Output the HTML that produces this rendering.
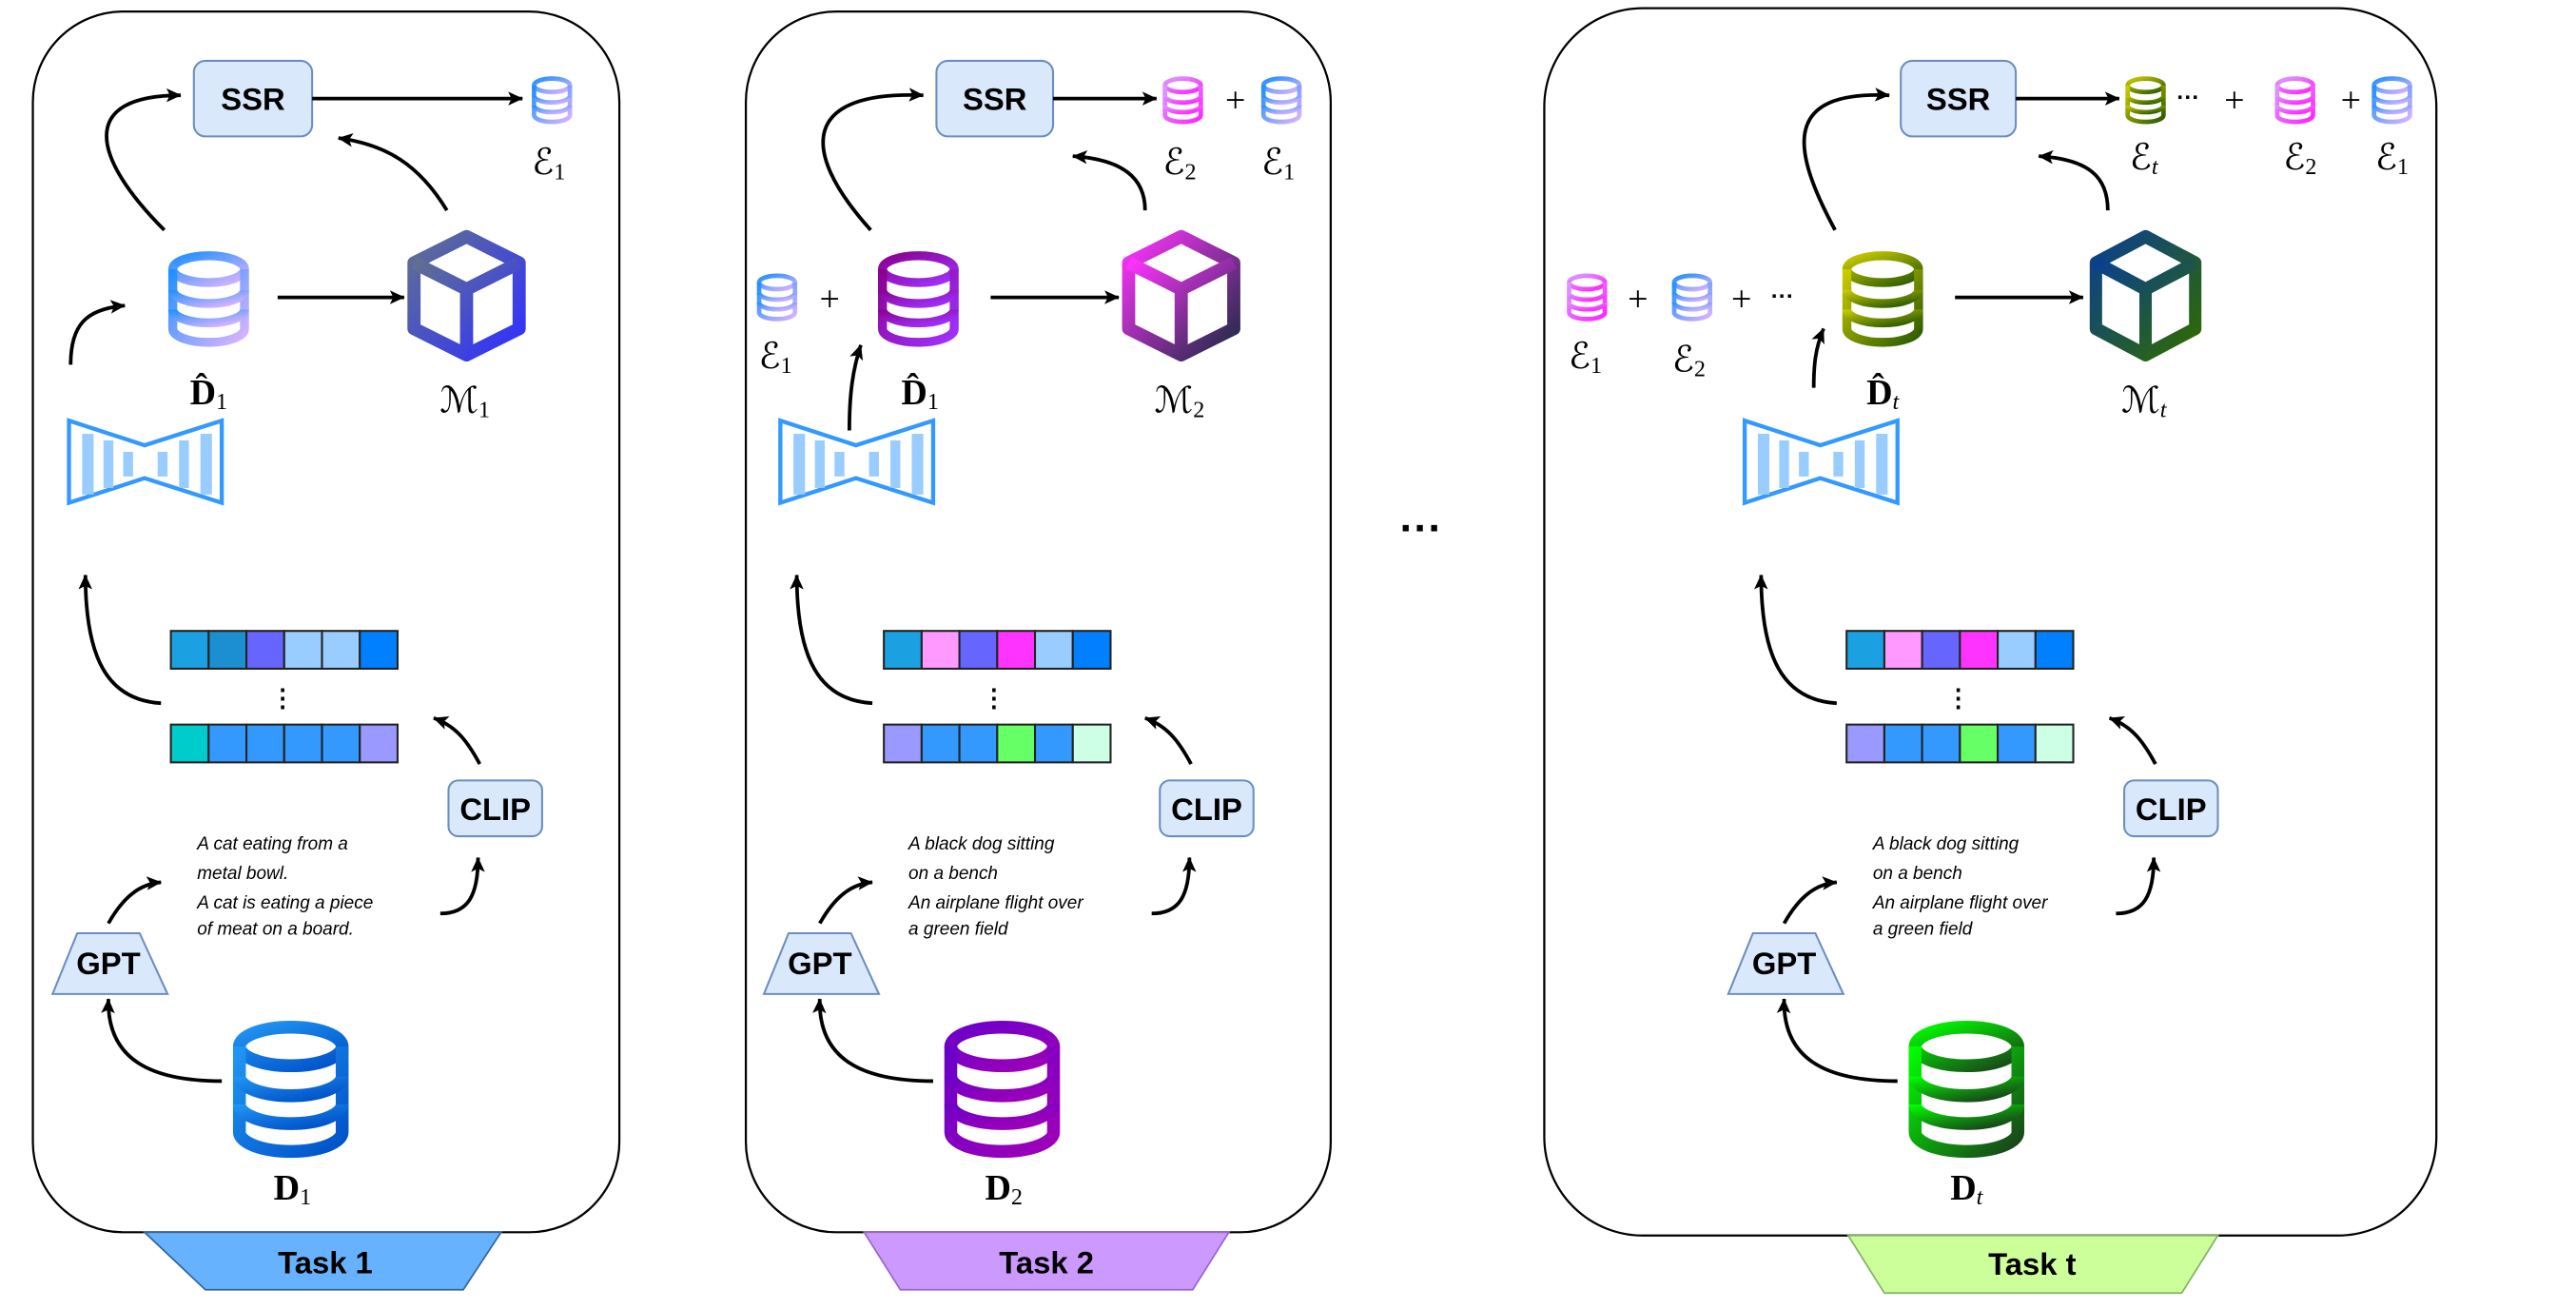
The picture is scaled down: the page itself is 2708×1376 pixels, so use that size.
<!DOCTYPE html>
<html><head><meta charset="utf-8"><style>
html,body{margin:0;padding:0;background:#fff;}
svg{display:block;}
.lbl{font-family:"Liberation Serif","DejaVu Serif",serif;font-size:22px;fill:#000;}
.box{font-family:"Liberation Sans",sans-serif;font-weight:bold;fill:#000;}
.it{font-family:"Liberation Sans",sans-serif;font-style:italic;font-size:11px;fill:#000;}
</style></head><body>
<svg width="2708" height="1376" viewBox="0 0 1568 796.7" xmlns="http://www.w3.org/2000/svg">
<defs>
<marker id="ar" viewBox="0 0 10 10" refX="9" refY="5" markerWidth="5" markerHeight="5" orient="auto" markerUnits="userSpaceOnUse" style="overflow:visible">
<path d="M-3,-1 L10,5 L-3,11 L0,5 Z" fill="#000" transform="scale(1.4) translate(-3,-1.5)"/>
</marker>
<linearGradient id="gE1" x1="0" y1="0" x2="1" y2="1"><stop offset="0" stop-color="#1e90ff"/><stop offset="1" stop-color="#dcb4ff"/></linearGradient>
<linearGradient id="gPk" x1="0" y1="0" x2="1" y2="1"><stop offset="0" stop-color="#d99cff"/><stop offset="1" stop-color="#ff22ff"/></linearGradient>
<linearGradient id="gPu" x1="0" y1="0" x2="1" y2="1"><stop offset="0" stop-color="#8a0090"/><stop offset="1" stop-color="#a033ff"/></linearGradient>
<linearGradient id="gPu2" x1="0" y1="0" x2="1" y2="1"><stop offset="0" stop-color="#6a00c8"/><stop offset="1" stop-color="#a000b8"/></linearGradient>
<linearGradient id="gOl" x1="0" y1="0" x2="1" y2="1"><stop offset="0" stop-color="#cccc00"/><stop offset="1" stop-color="#2a5a00"/></linearGradient>
<linearGradient id="gD1" x1="0" y1="0" x2="1" y2="1"><stop offset="0" stop-color="#2196f3"/><stop offset="1" stop-color="#0050c8"/></linearGradient>
<linearGradient id="gDt" x1="0" y1="0" x2="1" y2="1"><stop offset="0" stop-color="#00ff00"/><stop offset="1" stop-color="#1a401a"/></linearGradient>
<linearGradient id="gC1" x1="0" y1="0" x2="1" y2="1"><stop offset="0" stop-color="#607090"/><stop offset="1" stop-color="#3030ff"/></linearGradient>
<linearGradient id="gC2" x1="0" y1="0" x2="1" y2="1"><stop offset="0" stop-color="#ff33ff"/><stop offset="1" stop-color="#1e2a44"/></linearGradient>
<linearGradient id="gCt" x1="0" y1="0" x2="1" y2="1"><stop offset="0" stop-color="#0a3f90"/><stop offset="1" stop-color="#2f6a00"/></linearGradient>
<symbol id="db" viewBox="0 0 60 66" overflow="visible">
<g fill="none" stroke-width="6">
<ellipse cx="30" cy="13" rx="24" ry="9"/>
<path d="M6,13 V53 A24,9 0 0 0 54,53 V13"/>
<path d="M6,27 A24,9 0 0 0 54,27"/>
<path d="M6,40 A24,9 0 0 0 54,40"/>
</g></symbol>
<symbol id="cube" viewBox="0 0 72 80" overflow="visible" preserveAspectRatio="none">
<g fill="none" stroke-width="8" stroke-linejoin="round">
<path d="M36,4 L68,20 L68,60 L36,76 L4,60 L4,20 Z"/>
<path d="M4,20 L36,36 L68,20 M36,36 V76"/>
</g></symbol>
<g id="ae">
<polygon points="42,256 88,271 135,256 135,306 88,291 42,306" fill="none" stroke="#3399ff" stroke-width="2.5"/>
<g fill="#99ccff"><rect x="50" y="264" width="7" height="37"/><rect x="63" y="268" width="6" height="29"/><rect x="75" y="275" width="6" height="15"/><rect x="96" y="275" width="6" height="15"/><rect x="109" y="268" width="6" height="29"/><rect x="122" y="264" width="7" height="37"/></g>
</g>
<g id="common">
<use href="#ae"/>
<g fill="none" stroke="#000" stroke-width="2.2">
<path d="M98,428 C65,426 52,400 52,350" marker-end="url(#ar)"/>
<path d="M292,465 C285,452 278,442 264,437" marker-end="url(#ar)"/>
<path d="M268,556 C285,556 291,545 291,522" marker-end="url(#ar)"/>
<path d="M66,562 C75,546 85,538 98,537" marker-end="url(#ar)"/>
<path d="M135,658 C92,658 65,645 66,608" marker-end="url(#ar)"/>
</g>
<text x="172" y="430" text-anchor="middle" class="box" font-size="15">⋮</text>
<rect x="273" y="475" width="57" height="34" rx="6" fill="#dae8fc" stroke="#6c8ebf" stroke-width="1.2"/>
<text x="301.5" y="499" text-anchor="middle" class="box" font-size="19">CLIP</text>
<polygon points="47,568 85,568 102,605 32,605" fill="#dae8fc" stroke="#6c8ebf" stroke-width="1.2"/>
<text x="66" y="593" text-anchor="middle" class="box" font-size="19">GPT</text>
</g>
</defs>

<g fill="none" stroke="#000" stroke-width="1.3">
<rect x="20" y="7" width="357" height="743" rx="55"/>
<rect x="454" y="7" width="356" height="743" rx="55"/>
<rect x="940" y="5" width="543" height="747" rx="60"/>
</g>
<polygon points="88,750 305,750 282,785 125,785" fill="#66b2ff" stroke="#336699" stroke-width="1"/>
<text x="198" y="775" text-anchor="middle" class="box" font-size="19">Task 1</text>
<polygon points="526,750 748,750 726,785 548,785" fill="#cc99ff" stroke="#9966cc" stroke-width="1"/>
<text x="637" y="775" text-anchor="middle" class="box" font-size="19">Task 2</text>
<polygon points="1125,752 1350,752 1328,787 1147,787" fill="#ccff99" stroke="#82b366" stroke-width="1"/>
<text x="1237" y="776" text-anchor="middle" class="box" font-size="19">Task t</text>
<text x="865" y="330" text-anchor="middle" class="box" font-size="26">···</text>

<!-- Panel 1 -->
<use href="#common"/>
<rect x="118" y="37" width="72" height="46" rx="7" fill="#dae8fc" stroke="#6c8ebf" stroke-width="1.2"/>
<text x="154" y="67" text-anchor="middle" class="box" font-size="19">SSR</text>
<g fill="none" stroke="#000" stroke-width="2.2">
<line x1="190" y1="60" x2="318" y2="60" marker-end="url(#ar)"/>
<path d="M100,140 C55,95 48,58 110,58" marker-end="url(#ar)"/>
<path d="M272,128 C255,100 235,88 206,84" marker-end="url(#ar)"/>
<line x1="169" y1="181" x2="246" y2="181" marker-end="url(#ar)"/>
<path d="M43,222 C43,198 52,188 76,186" marker-end="url(#ar)"/>
</g>
<use href="#db" x="322" y="46" width="28" height="30" stroke="url(#gE1)"/>
<text x="334" y="106" text-anchor="middle" class="lbl">ℰ<tspan font-size="14" dy="3">1</tspan></text>
<use href="#db" x="99" y="152" width="56" height="60" stroke="url(#gE1)"/>
<text x="127" y="246" text-anchor="middle" class="lbl" font-weight="bold">D̂<tspan font-size="14" font-weight="normal" dy="3">1</tspan></text>
<use href="#cube" x="248" y="140" width="72" height="80" stroke="url(#gC1)"/>
<text x="283" y="251" text-anchor="middle" class="lbl">ℳ<tspan font-size="14" dy="3">1</tspan></text>
<g stroke="#222" stroke-width="1.2">
<rect x="104" y="384" width="23" height="23" fill="#1ba1e2"/><rect x="127" y="384" width="23" height="23" fill="#1b8fd0"/><rect x="150" y="384" width="23" height="23" fill="#6666ff"/><rect x="173" y="384" width="23" height="23" fill="#99ccff"/><rect x="196" y="384" width="23" height="23" fill="#99ccff"/><rect x="219" y="384" width="23" height="23" fill="#007fff"/>
<rect x="104" y="441" width="23" height="23" fill="#00cccc"/><rect x="127" y="441" width="23" height="23" fill="#3399ff"/><rect x="150" y="441" width="23" height="23" fill="#3399ff"/><rect x="173" y="441" width="23" height="23" fill="#3399ff"/><rect x="196" y="441" width="23" height="23" fill="#3399ff"/><rect x="219" y="441" width="23" height="23" fill="#9999ff"/>
</g>
<text class="it"><tspan x="120" y="517">A cat eating from a</tspan><tspan x="120" y="535">metal bowl.</tspan><tspan x="120" y="553">A cat is eating a piece</tspan><tspan x="120" y="569">of meat on a  board.</tspan></text>
<use href="#db" x="136" y="620" width="82" height="86" stroke="url(#gD1)"/>
<text x="178" y="730" text-anchor="middle" class="lbl" font-weight="bold">D<tspan font-size="14" font-weight="normal" dy="3">1</tspan></text>

<!-- Panel 2 -->
<g transform="translate(433,0)"><use href="#common"/></g>
<rect x="570" y="37" width="71" height="46" rx="7" fill="#dae8fc" stroke="#6c8ebf" stroke-width="1.2"/>
<text x="605.5" y="67" text-anchor="middle" class="box" font-size="19">SSR</text>
<g fill="none" stroke="#000" stroke-width="2.2">
<line x1="641" y1="60" x2="704" y2="60" marker-end="url(#ar)"/>
<path d="M530,140 C485,90 490,55 562,58" marker-end="url(#ar)"/>
<path d="M697,128 C697,108 683,97 653,95" marker-end="url(#ar)"/>
<line x1="603" y1="181" x2="681" y2="181" marker-end="url(#ar)"/>
<path d="M517,262 C517,240 519,225 524,210" marker-end="url(#ar)"/>
</g>
<use href="#db" x="706" y="46" width="28" height="30" stroke="url(#gPk)"/>
<text x="752" y="68" text-anchor="middle" class="lbl" font-size="24">+</text>
<use href="#db" x="766" y="46" width="28" height="30" stroke="url(#gE1)"/>
<text x="718" y="106" text-anchor="middle" class="lbl">ℰ<tspan font-size="14" dy="3">2</tspan></text>
<text x="778" y="106" text-anchor="middle" class="lbl">ℰ<tspan font-size="14" dy="3">1</tspan></text>
<use href="#db" x="459" y="166" width="28" height="30" stroke="url(#gE1)"/>
<text x="505" y="189" text-anchor="middle" class="lbl" font-size="24">+</text>
<text x="472" y="224" text-anchor="middle" class="lbl">ℰ<tspan font-size="14" dy="3">1</tspan></text>
<use href="#db" x="531" y="152" width="56" height="60" stroke="url(#gPu)"/>
<text x="560" y="246" text-anchor="middle" class="lbl" font-weight="bold">D̂<tspan font-size="14" font-weight="normal" dy="3">1</tspan></text>
<use href="#cube" x="683" y="140" width="72" height="80" stroke="url(#gC2)"/>
<text x="718" y="251" text-anchor="middle" class="lbl">ℳ<tspan font-size="14" dy="3">2</tspan></text>
<g stroke="#222" stroke-width="1.2">
<rect x="538" y="384" width="23" height="23" fill="#1ba1e2"/><rect x="561" y="384" width="23" height="23" fill="#ff99ff"/><rect x="584" y="384" width="23" height="23" fill="#6666ff"/><rect x="607" y="384" width="23" height="23" fill="#ff33ff"/><rect x="630" y="384" width="23" height="23" fill="#99ccff"/><rect x="653" y="384" width="23" height="23" fill="#007fff"/>
<rect x="538" y="441" width="23" height="23" fill="#9999ff"/><rect x="561" y="441" width="23" height="23" fill="#3399ff"/><rect x="584" y="441" width="23" height="23" fill="#3399ff"/><rect x="607" y="441" width="23" height="23" fill="#66ff66"/><rect x="630" y="441" width="23" height="23" fill="#3399ff"/><rect x="653" y="441" width="23" height="23" fill="#ccffe6"/>
</g>
<text class="it"><tspan x="553" y="517">A black dog sitting</tspan><tspan x="553" y="535">on a bench</tspan><tspan x="553" y="553">An airplane flight over</tspan><tspan x="553" y="569">a green field</tspan></text>
<use href="#db" x="569" y="620" width="82" height="86" stroke="url(#gPu2)"/>
<text x="611" y="730" text-anchor="middle" class="lbl" font-weight="bold">D<tspan font-size="14" font-weight="normal" dy="3">2</tspan></text>

<!-- Panel 3 -->
<g transform="translate(1020,0)"><use href="#common"/></g>
<rect x="1157" y="37" width="70" height="46" rx="7" fill="#dae8fc" stroke="#6c8ebf" stroke-width="1.2"/>
<text x="1192" y="67" text-anchor="middle" class="box" font-size="19">SSR</text>
<g fill="none" stroke="#000" stroke-width="2.2">
<line x1="1227" y1="60" x2="1290" y2="60" marker-end="url(#ar)"/>
<path d="M1117,140 C1090,90 1085,55 1150,58" marker-end="url(#ar)"/>
<path d="M1283,128 C1283,108 1272,97 1241,95" marker-end="url(#ar)"/>
<line x1="1190" y1="181" x2="1268" y2="181" marker-end="url(#ar)"/>
<path d="M1104,236 C1104,222 1105,212 1110,200" marker-end="url(#ar)"/>
</g>
<use href="#db" x="1292" y="46" width="28" height="30" stroke="url(#gOl)"/>
<text x="1332" y="64" text-anchor="middle" class="box" font-size="14">···</text>
<text x="1360" y="68" text-anchor="middle" class="lbl" font-size="24">+</text>
<use href="#db" x="1383" y="46" width="28" height="30" stroke="url(#gPk)"/>
<text x="1431" y="68" text-anchor="middle" class="lbl" font-size="24">+</text>
<use href="#db" x="1442" y="46" width="28" height="30" stroke="url(#gE1)"/>
<text x="1305" y="103" text-anchor="middle" class="lbl">ℰ<tspan font-size="14" font-style="italic" dy="3">t</tspan></text>
<text x="1400" y="103" text-anchor="middle" class="lbl">ℰ<tspan font-size="14" dy="3">2</tspan></text>
<text x="1456" y="103" text-anchor="middle" class="lbl">ℰ<tspan font-size="14" dy="3">1</tspan></text>
<use href="#db" x="952" y="166" width="28" height="30" stroke="url(#gPk)"/>
<text x="997" y="189" text-anchor="middle" class="lbl" font-size="24">+</text>
<use href="#db" x="1016" y="166" width="28" height="30" stroke="url(#gE1)"/>
<text x="1060" y="189" text-anchor="middle" class="lbl" font-size="24">+</text>
<text x="1085" y="185" text-anchor="middle" class="box" font-size="14">···</text>
<text x="965" y="224" text-anchor="middle" class="lbl">ℰ<tspan font-size="14" dy="3">1</tspan></text>
<text x="1028" y="226" text-anchor="middle" class="lbl">ℰ<tspan font-size="14" dy="3">2</tspan></text>
<use href="#db" x="1118" y="152" width="56" height="60" stroke="url(#gOl)"/>
<text x="1146" y="246" text-anchor="middle" class="lbl" font-weight="bold">D̂<tspan font-size="14" font-weight="normal" font-style="italic" dy="3">t</tspan></text>
<use href="#cube" x="1272" y="140" width="68" height="80" stroke="url(#gCt)"/>
<text x="1305" y="251" text-anchor="middle" class="lbl">ℳ<tspan font-size="14" font-style="italic" dy="3">t</tspan></text>
<g stroke="#222" stroke-width="1.2">
<rect x="1124" y="384" width="23" height="23" fill="#1ba1e2"/><rect x="1147" y="384" width="23" height="23" fill="#ff99ff"/><rect x="1170" y="384" width="23" height="23" fill="#6666ff"/><rect x="1193" y="384" width="23" height="23" fill="#ff33ff"/><rect x="1216" y="384" width="23" height="23" fill="#99ccff"/><rect x="1239" y="384" width="23" height="23" fill="#007fff"/>
<rect x="1124" y="441" width="23" height="23" fill="#9999ff"/><rect x="1147" y="441" width="23" height="23" fill="#3399ff"/><rect x="1170" y="441" width="23" height="23" fill="#3399ff"/><rect x="1193" y="441" width="23" height="23" fill="#66ff66"/><rect x="1216" y="441" width="23" height="23" fill="#3399ff"/><rect x="1239" y="441" width="23" height="23" fill="#ccffe6"/>
</g>
<text class="it"><tspan x="1140" y="517">A black dog sitting</tspan><tspan x="1140" y="535">on a bench</tspan><tspan x="1140" y="553">An airplane flight over</tspan><tspan x="1140" y="569">a green field</tspan></text>
<use href="#db" x="1156" y="620" width="82" height="86" stroke="url(#gDt)"/>
<text x="1197" y="730" text-anchor="middle" class="lbl" font-weight="bold">D<tspan font-size="14" font-weight="normal" font-style="italic" dy="3">t</tspan></text>
</svg>
</body></html>
